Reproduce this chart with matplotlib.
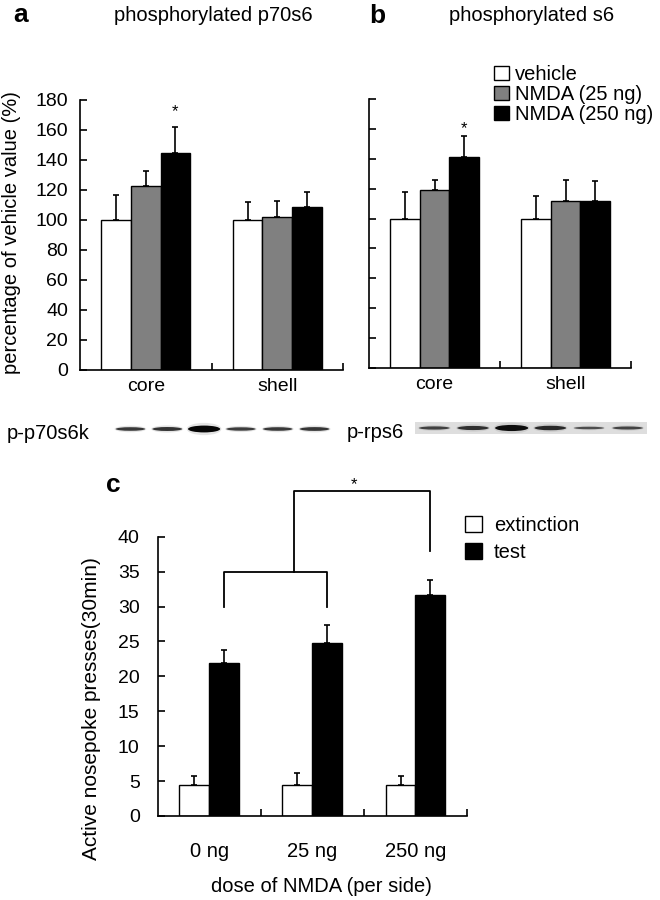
import numpy as np
import matplotlib
matplotlib.use('Agg')
import matplotlib.pyplot as plt
from matplotlib.patches import Ellipse

plt.rcParams['font.family'] = ['Liberation Sans', 'DejaVu Sans']

# ---- data: panels a / b (percentage of vehicle value) ----
regions = ['core', 'shell']
groups = ['vehicle', 'NMDA (25 ng)', 'NMDA (250 ng)']
p70_core = [100, 123, 145]
p70_core_err = [17, 10, 17]
p70_shell = [100, 102, 109]
p70_shell_err = [12, 11, 10]
s6_core = [100, 119, 141]
s6_core_err = [18, 7, 14]
s6_shell = [100, 112, 112]
s6_shell_err = [15, 14, 13]
star_a = 172
star_b = 160

# relative band density on the blots (lanes: core veh/25/250, shell veh/25/250)
p70_bands = [1.0, 1.1, 1.9, 0.95, 1.0, 1.05]
rps6_bands = [0.9, 1.15, 1.7, 1.25, 0.7, 0.85]

# ---- data: panel c ----
doses = ['0 ng', '25 ng', '250 ng']
extinction = [4.4, 4.4, 4.4]
extinction_err = [1.3, 1.7, 1.3]
test = [21.9, 24.8, 31.6]
test_err = [1.9, 2.6, 2.2]

W, H = 660, 900
fig = plt.figure(figsize=(W / 100, H / 100), dpi=100)


def px_axes(l, t, r, b):
    return fig.add_axes([l / W, 1 - b / H, (r - l) / W, (b - t) / H])


bar_colors = ['white', '#808080', 'black']


def bar_panel(ax, core, shell, core_err, shell_err, star_y, labels_on):
    x = np.arange(len(regions))
    bw = 0.225
    for k in range(len(groups)):
        h = [core[k], shell[k]]
        e = [core_err[k], shell_err[k]]
        xs = x + (k - 1) * bw
        ax.bar(xs, h, bw, color=bar_colors[k], edgecolor='black',
               linewidth=1, label=groups[k], zorder=2)
        ax.errorbar(xs, h, yerr=[np.zeros(len(h)), e], fmt='none',
                    ecolor='black', elinewidth=1.2, capsize=2.5,
                    capthick=1.2, zorder=3)
    ax.text(x[0] + bw, star_y, '*', ha='center', va='center', fontsize=12)
    ax.set_xlim(-0.5, 1.5)
    ax.set_ylim(0, 180)
    ax.set_yticks(range(0, 181, 20))
    ax.set_xticks(x)
    ax.set_xticklabels(regions)
    ax.set_xticks([0.5, 1.5], minor=True)
    ax.tick_params(axis='x', which='major', length=0, pad=6, labelsize=14)
    ax.tick_params(axis='x', which='minor', direction='in', length=5, width=1.2)
    ax.tick_params(axis='y', direction='in', length=5, width=1.2, pad=8.5,
                   labelsize=14, labelleft=labels_on)
    for s in ['top', 'right']:
        ax.spines[s].set_visible(False)
    for s in ['left', 'bottom']:
        ax.spines[s].set_linewidth(1.2)


# panel a
ax_a = px_axes(80, 100, 343, 370)
bar_panel(ax_a, p70_core, p70_shell, p70_core_err, p70_shell_err, star_a, True)
ax_a.set_ylabel('percentage of vehicle value (%)', fontsize=14.5)
ax_a.yaxis.set_label_coords(-0.226, 0.51)

# panel b
ax_b = px_axes(369, 99, 631, 368)
bar_panel(ax_b, s6_core, s6_shell, s6_core_err, s6_shell_err, star_b, False)
ax_b.legend(loc='upper left', bbox_to_anchor=(494 / W, 1 - 65 / H),
            bbox_transform=fig.transFigure, frameon=False, fontsize=14.5,
            handlelength=0.75, handleheight=0.75, handletextpad=0.3,
            labelspacing=0.05, borderpad=0, borderaxespad=0)

fig.text(13 / W, 1 - 22 / H, 'a', fontsize=19, fontweight='bold', va='baseline')
fig.text(213 / W, 1 - 21 / H, 'phosphorylated p70s6', fontsize=14.5,
         ha='center', va='baseline')
fig.text(369 / W, 1 - 23 / H, 'b', fontsize=19, fontweight='bold', va='baseline')
fig.text(532 / W, 1 - 21 / H, 'phosphorylated s6', fontsize=14.5,
         ha='center', va='baseline')


# western blot strips
def blot(ax, dens, h_px, bg):
    ax.set_xlim(-0.5, len(dens) - 0.5)
    ax.set_ylim(-h_px / 2, h_px / 2)
    ax.set_facecolor(bg)
    ax.set_xticks([])
    ax.set_yticks([])
    for sp in ax.spines.values():
        sp.set_visible(False)
    for i, d in enumerate(dens):
        thick = 3.6 * d
        wid = 0.72 + 0.08 * d
        ax.add_patch(Ellipse((i, 0), wid * 1.08, thick * 1.8,
                             color='#a8a8a8', alpha=0.3, lw=0))
        g = max(0.02, 0.3 - 0.25 * (d - 0.7))
        ax.add_patch(Ellipse((i, 0), wid, thick, color=str(g), lw=0))


ax_blot_a = px_axes(112, 418, 333, 440)
blot(ax_blot_a, p70_bands, 22, 'white')
ax_blot_b = px_axes(415, 422, 647, 434)
blot(ax_blot_b, rps6_bands, 12, '#dedede')
fig.text(7 / W, 1 - 439 / H, 'p-p70s6k', fontsize=14.5, va='baseline')
fig.text(347 / W, 1 - 438 / H, 'p-rps6', fontsize=14.5, va='baseline')

# panel c
ax_c = px_axes(157.7, 536.7, 467, 816)
x = np.arange(len(doses))
bw = 0.29
ax_c.bar(x - bw / 2, extinction, bw, color='white', edgecolor='black',
         linewidth=1, label='extinction', zorder=2)
ax_c.bar(x + bw / 2, test, bw, color='black', edgecolor='black',
         linewidth=1, label='test', zorder=2)
ax_c.errorbar(x - bw / 2, extinction, yerr=[np.zeros(3), extinction_err],
              fmt='none', ecolor='black', elinewidth=1.2, capsize=2.5,
              capthick=1.2, zorder=3)
ax_c.errorbar(x + bw / 2, test, yerr=[np.zeros(3), test_err],
              fmt='none', ecolor='black', elinewidth=1.2, capsize=2.5,
              capthick=1.2, zorder=3)

# significance brackets
xt = x + bw / 2
stem = 0.82
ax_c.plot([xt[0], xt[0], xt[1], xt[1]], [30, 35, 35, 30], color='black',
          lw=1.3, clip_on=False)
ax_c.plot([stem, stem, xt[2], xt[2]], [35, 46.5, 46.5, 38], color='black',
          lw=1.3, clip_on=False)
ax_c.text(1.4, 47.5, '*', ha='center', va='center', fontsize=12)

ax_c.set_xlim(-0.5, 2.5)
ax_c.set_ylim(0, 40)
ax_c.set_yticks(range(0, 41, 5))
ax_c.set_xticks(x)
ax_c.set_xticklabels(doses)
ax_c.set_xticks([0.5, 1.5, 2.5], minor=True)
ax_c.tick_params(axis='x', which='major', length=0, pad=19, labelsize=14.5)
ax_c.tick_params(axis='x', which='minor', direction='in', length=5, width=1.2)
ax_c.tick_params(axis='y', direction='in', length=5, width=1.2, pad=13,
                 labelsize=14)
for s in ['top', 'right']:
    ax_c.spines[s].set_visible(False)
for s in ['left', 'bottom']:
    ax_c.spines[s].set_linewidth(1.2)
ax_c.set_ylabel('Active nosepoke presses(30min)', fontsize=15)
ax_c.yaxis.set_label_coords(-0.183, 0.383)
ax_c.set_xlabel('dose of NMDA (per side)', fontsize=14.5)
ax_c.xaxis.set_label_coords(0.528, -0.218)
ax_c.legend(loc='upper left', bbox_to_anchor=(465 / W, 1 - 516 / H),
            bbox_transform=fig.transFigure, frameon=False, fontsize=14.5,
            handlelength=0.85, handleheight=0.85, handletextpad=0.6,
            labelspacing=0.4, borderpad=0, borderaxespad=0)
fig.text(106 / W, 1 - 492 / H, 'c', fontsize=19, fontweight='bold', va='baseline')

fig.savefig('out.png', dpi=100)
